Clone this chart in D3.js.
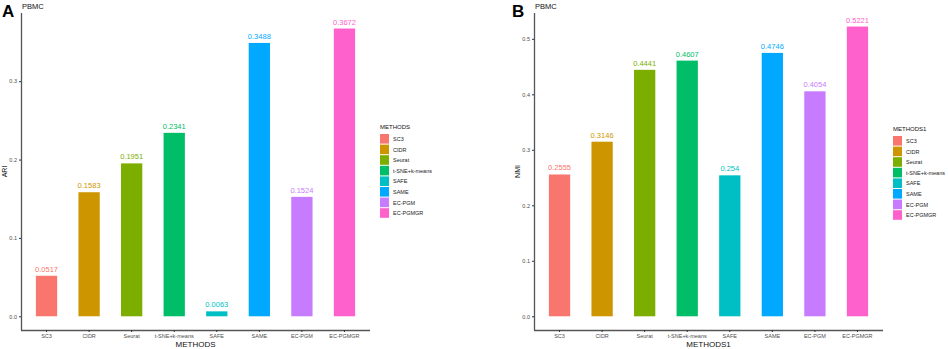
<!DOCTYPE html>
<html>
<head>
<meta charset="utf-8">
<script src="https://cdn.jsdelivr.net/npm/d3@7"></script>
<style>
  body { margin: 0; background: #fff; }
  svg { font-family: "Liberation Sans", Arial, sans-serif; }
</style>
</head>
<body>
<div id="chart"></div>
<script>
// methods and scores
const methods = ['SC3', 'CIDR', 'Seurat', 't-SNE+k-means', 'SAFE', 'SAME', 'EC-PGM', 'EC-PGMGR'];
const ariValues = [0.0517, 0.1583, 0.1951, 0.2341, 0.0063, 0.3488, 0.1524, 0.3672];
const nmiValues = [0.2555, 0.3146, 0.4441, 0.4607, 0.254, 0.4746, 0.4054, 0.5221];
const ariTicks = [0, 0.1, 0.2, 0.3];
const nmiTicks = [0, 0.1, 0.2, 0.3, 0.4, 0.5];
const hueColors = ['#F8766D', '#CD9600', '#7CAE00', '#00BE67', '#00BFC4', '#00A9FF', '#C77CFF', '#FF61CC'];

const width = 948, height = 349;

const svg = d3.select('#chart')
    .append('svg')
    .attr('width', width)
    .attr('height', height);

const color = d3.scaleOrdinal().domain(methods).range(hueColors);

function drawPanel(opts) {
    const g = svg.append('g');

    const x = d3.scaleBand()
        .domain(methods)
        .range([opts.left, opts.right])
        .paddingInner(0.5)
        .paddingOuter(0.35);

    const y = d3.scaleLinear()
        .domain(opts.domain)
        .range([opts.bottom, opts.top]);

    const data = methods.map((m, i) => ({method: m, value: opts.values[i]}));

    // bars
    g.selectAll('rect.bar')
        .data(data)
        .enter()
        .append('rect')
        .attr('class', 'bar')
        .attr('x', d => x(d.method))
        .attr('width', x.bandwidth())
        .attr('y', d => y(d.value))
        .attr('height', d => y(0) - y(d.value))
        .attr('fill', d => color(d.method));

    // value labels
    g.selectAll('text.val')
        .data(data)
        .enter()
        .append('text')
        .attr('class', 'val')
        .attr('x', d => x(d.method) + x.bandwidth() / 2)
        .attr('y', d => y(d.value) - 4)
        .attr('text-anchor', 'middle')
        .attr('font-size', '7.5px')
        .attr('fill', d => color(d.method))
        .text(d => String(d.value));

    // y axis
    const yAxis = g.append('g')
        .attr('transform', `translate(${opts.left},0)`)
        .call(d3.axisLeft(y).tickValues(opts.ticks).tickSize(2).tickPadding(2)
            .tickFormat(d3.format('.1f')));
    yAxis.select('.domain').attr('stroke', '#555').attr('stroke-width', 1.3)
        .attr('d', `M0.5,${opts.top}V${opts.bottom}`);
    yAxis.selectAll('.tick line').attr('stroke', '#333');
    yAxis.selectAll('.tick text').attr('font-size', '5.5px').attr('fill', '#4d4d4d')
        .attr('font-family', '"Liberation Sans", Arial, sans-serif');

    // x axis
    const xAxis = g.append('g')
        .attr('transform', `translate(0,${opts.bottom})`)
        .call(d3.axisBottom(x).tickSize(2).tickPadding(2));
    xAxis.select('.domain').attr('stroke', '#555').attr('stroke-width', 1.3)
        .attr('d', `M${opts.left},0.5H${opts.right}`);
    xAxis.selectAll('.tick line').attr('stroke', '#333');
    xAxis.selectAll('.tick text').attr('font-size', '5.5px').attr('fill', '#4d4d4d')
        .attr('font-family', '"Liberation Sans", Arial, sans-serif');

    // axis titles
    g.append('text')
        .attr('x', (opts.left + opts.right) / 2)
        .attr('y', 347)
        .attr('text-anchor', 'middle')
        .attr('font-size', '8px')
        .attr('fill', '#111')
        .text(opts.xTitle);

    g.append('text')
        .attr('transform', `translate(${opts.yTitleX},${(opts.top + opts.bottom) / 2}) rotate(-90)`)
        .attr('text-anchor', 'middle')
        .attr('font-size', '7px')
        .attr('fill', '#111')
        .text(opts.yTitle);

    // panel letter and subtitle
    g.append('text')
        .attr('x', opts.letterX)
        .attr('y', 17)
        .attr('font-size', '17px')
        .attr('font-weight', 'bold')
        .text(opts.letter);

    g.append('text')
        .attr('x', opts.left + 1)
        .attr('y', 9)
        .attr('font-size', '7.5px')
        .attr('fill', '#111')
        .text('PBMC');

    // legend
    const lg = g.append('g').attr('transform', `translate(${opts.legendX},${opts.legendY})`);
    lg.append('text')
        .attr('x', 0)
        .attr('y', 0)
        .attr('font-size', '6px')
        .attr('fill', '#111')
        .text(opts.legendTitle);
    const item = lg.selectAll('g.item')
        .data(methods)
        .enter()
        .append('g')
        .attr('class', 'item')
        .attr('transform', (d, i) => `translate(0,${5 + i * 10.6})`);
    item.append('rect')
        .attr('width', 9)
        .attr('height', 9.6)
        .attr('fill', d => color(d));
    item.append('text')
        .attr('x', 13)
        .attr('y', 7)
        .attr('font-size', '5.5px')
        .attr('fill', '#222')
        .text(d => d);
}

drawPanel({
    letter: 'A', letterX: 2,
    left: 21, right: 370, top: 13, bottom: 330,
    domain: [-0.0175, 0.387],
    values: ariValues, ticks: ariTicks,
    xTitle: 'METHODS', yTitle: 'ARI', yTitleX: 7,
    legendTitle: 'METHODS', legendX: 380, legendY: 129
});

drawPanel({
    letter: 'B', letterX: 512,
    left: 534, right: 883, top: 13, bottom: 330,
    domain: [-0.0247, 0.5465],
    values: nmiValues, ticks: nmiTicks,
    xTitle: 'METHODS1', yTitle: 'NMI', yTitleX: 520,
    legendTitle: 'METHODS1', legendX: 893, legendY: 131
});
</script>
</body>
</html>
